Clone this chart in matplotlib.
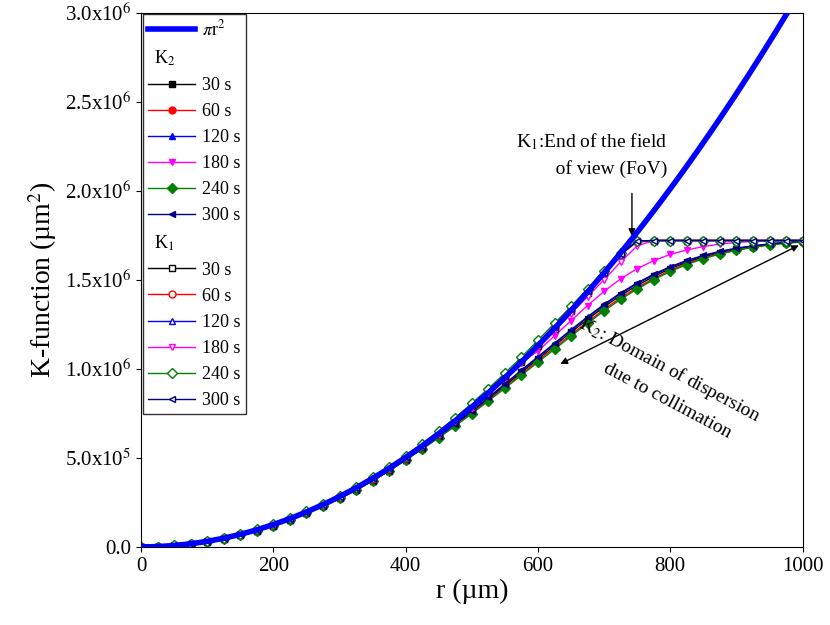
import numpy as np
import matplotlib
matplotlib.use("Agg")
import matplotlib.pyplot as plt
from matplotlib.lines import Line2D

plt.rcParams["font.family"] = "Liberation Serif"
plt.rcParams["mathtext.fontset"] = "stix"

r = np.arange(0, 1001, 25)
r_line = np.linspace(0, 1000, 400)

# values in units of 1e6 um^2
K1_30 = [0,0.002,0.008,0.018,0.031,0.049,0.070,0.095,0.124,0.157,0.194,0.235,0.280,0.329,0.382,0.439,0.500,0.565,0.634,0.707,0.784,0.865,0.950,1.038,1.130,1.225,1.325,1.428,1.535,1.640,1.715,1.72,1.72,1.72,1.72,1.72,1.72,1.72,1.72,1.72,1.72]
K1_60 = [0,0.002,0.008,0.018,0.031,0.049,0.070,0.096,0.125,0.158,0.195,0.236,0.281,0.330,0.383,0.440,0.501,0.566,0.636,0.710,0.788,0.870,0.955,1.044,1.136,1.232,1.331,1.433,1.538,1.642,1.716,1.72,1.72,1.72,1.72,1.72,1.72,1.72,1.72,1.72,1.72]
K1_120 = [0,0.002,0.008,0.018,0.031,0.049,0.071,0.096,0.126,0.159,0.196,0.238,0.283,0.332,0.386,0.443,0.505,0.570,0.640,0.714,0.792,0.874,0.960,1.050,1.142,1.238,1.336,1.438,1.542,1.645,1.717,1.72,1.72,1.72,1.72,1.72,1.72,1.72,1.72,1.72,1.72]
K1_180 = [0,0.002,0.007,0.017,0.030,0.048,0.069,0.094,0.123,0.156,0.193,0.234,0.279,0.328,0.381,0.438,0.499,0.564,0.633,0.706,0.782,0.862,0.946,1.033,1.123,1.215,1.310,1.405,1.500,1.600,1.690,1.72,1.72,1.72,1.72,1.72,1.72,1.72,1.72,1.72,1.72]
K1_240 = [0,0.002,0.008,0.018,0.032,0.050,0.072,0.098,0.128,0.162,0.200,0.242,0.288,0.338,0.392,0.450,0.512,0.578,0.650,0.726,0.806,0.889,0.975,1.065,1.160,1.255,1.350,1.450,1.550,1.648,1.718,1.72,1.72,1.72,1.72,1.72,1.72,1.72,1.72,1.72,1.72]
K1_300 = [0,0.002,0.008,0.018,0.031,0.049,0.070,0.095,0.125,0.158,0.195,0.237,0.282,0.331,0.385,0.442,0.503,0.568,0.638,0.712,0.790,0.872,0.958,1.047,1.139,1.235,1.334,1.436,1.540,1.644,1.717,1.72,1.72,1.72,1.72,1.72,1.72,1.72,1.72,1.72,1.72]

K2_30 = [0,0.001,0.006,0.015,0.028,0.045,0.066,0.091,0.120,0.152,0.188,0.228,0.272,0.320,0.372,0.428,0.490,0.552,0.618,0.686,0.757,0.830,0.905,0.980,1.055,1.130,1.205,1.278,1.348,1.412,1.468,1.518,1.562,1.598,1.628,1.652,1.671,1.686,1.698,1.708,1.715]
K2_60 = [0,0.001,0.006,0.015,0.028,0.045,0.066,0.091,0.120,0.152,0.188,0.228,0.272,0.320,0.372,0.428,0.489,0.550,0.615,0.682,0.752,0.824,0.897,0.971,1.045,1.119,1.192,1.264,1.334,1.399,1.456,1.507,1.552,1.590,1.622,1.647,1.667,1.683,1.696,1.706,1.713]
K2_120 = [0,0.001,0.006,0.015,0.028,0.045,0.066,0.091,0.120,0.152,0.188,0.228,0.272,0.320,0.372,0.428,0.490,0.553,0.620,0.690,0.762,0.836,0.912,0.988,1.064,1.140,1.215,1.288,1.358,1.422,1.478,1.527,1.570,1.605,1.634,1.657,1.675,1.689,1.700,1.709,1.716]
K2_180 = [0,0.001,0.006,0.015,0.028,0.045,0.066,0.091,0.120,0.152,0.188,0.228,0.272,0.320,0.372,0.428,0.491,0.556,0.625,0.700,0.780,0.865,0.950,1.035,1.100,1.185,1.270,1.355,1.435,1.505,1.562,1.607,1.642,1.667,1.686,1.700,1.709,1.715,1.718,1.720,1.720]
K2_240 = [0,0.001,0.006,0.015,0.028,0.045,0.066,0.091,0.120,0.152,0.188,0.228,0.272,0.320,0.372,0.428,0.488,0.549,0.613,0.679,0.748,0.819,0.891,0.964,1.037,1.110,1.183,1.255,1.325,1.390,1.448,1.500,1.546,1.585,1.618,1.644,1.665,1.682,1.695,1.705,1.712]
K2_300 = [0,0.001,0.006,0.015,0.028,0.045,0.066,0.091,0.120,0.152,0.188,0.228,0.272,0.320,0.372,0.428,0.490,0.554,0.621,0.691,0.764,0.839,0.915,0.992,1.068,1.144,1.219,1.292,1.362,1.426,1.482,1.531,1.573,1.608,1.636,1.659,1.677,1.690,1.701,1.710,1.716]

labels = ["30 s", "60 s", "120 s", "180 s", "240 s", "300 s"]
colors = ["black", "red", "blue", "magenta", "#008000", "#000080"]
markers = ["s", "o", "^", "v", "D", "<"]
K2 = [K2_30, K2_60, K2_120, K2_180, K2_240, K2_300]
K1 = [K1_30, K1_60, K1_120, K1_180, K1_240, K1_300]

fig, ax = plt.subplots(figsize=(8.3, 6.25), dpi=100)
fig.subplots_adjust(left=0.17, right=0.967, top=0.98, bottom=0.125)

hpi, = ax.plot(r_line, np.pi * r_line**2, color="blue", lw=4, zorder=5)
h2, h1 = [], []
for k, lab, c, m in zip(K2, labels, colors, markers):
    h, = ax.plot(r, np.array(k) * 1e6, color=c, marker=m, ms=5, lw=1, label=lab)
    h2.append(h)
for k, lab, c, m in zip(K1, labels, colors, markers):
    h, = ax.plot(r, np.array(k) * 1e6, color=c, marker=m, ms=5, lw=1, mfc="white", label=lab)
    h1.append(h)

blank = Line2D([], [], color="none")
handles = [hpi, blank] + h2 + [blank] + h1
labs = [r"$\pi$r$^2$", "K$_2$"] + labels + ["K$_1$"] + labels
leg = ax.legend(handles, labs, loc="upper left", fontsize=13, frameon=True,
                fancybox=False, edgecolor="black", handlelength=2.6,
                borderaxespad=0.1, labelspacing=0.5, handletextpad=0.4,
                borderpad=0.3)
for t in leg.get_texts():
    if t.get_text() in ("K$_2$", "K$_1$"):
        t.set_ha("left"); t.set_position((-48, 0))

ax.set_xlim(0, 1000)
ax.set_ylim(0, 3.0e6)
ax.set_xticks(range(0, 1001, 200))
yt = np.arange(0, 3.01e6, 0.5e6)
ax.set_yticks(yt)
ax.set_yticklabels(["0.0"] + [f"{v/1e6:.1f}x10$^6$" if v >= 1e6 else f"{v/1e5:.1f}x10$^5$" for v in yt[1:]])
ax.tick_params(labelsize=15, direction="out")
ax.set_xlabel("r (µm)", fontsize=20, labelpad=2)
ax.set_ylabel("K-function (µm$^2$)", fontsize=20)

ax.annotate("", xy=(742, 1.73e6), xytext=(742, 2.0e6),
            arrowprops=dict(arrowstyle="-|>", color="black", lw=1))
ax.text(795, 2.07e6, "K$_1$:End of the field\n   of view (FoV)", ha="right",
        va="bottom", fontsize=14, linespacing=1.6)
ax.annotate("", xy=(630, 1.02e6), xytext=(998, 1.70e6),
            arrowprops=dict(arrowstyle="<|-|>", color="black", lw=1, mutation_scale=10))
ax.text(790, 0.93e6, "K$_2$: Domain of dispersion\n     due to collimation",
        rotation=-28, ha="center", va="center", fontsize=14, linespacing=1.7,
        rotation_mode="anchor")

fig.savefig("out.png", dpi=100)
